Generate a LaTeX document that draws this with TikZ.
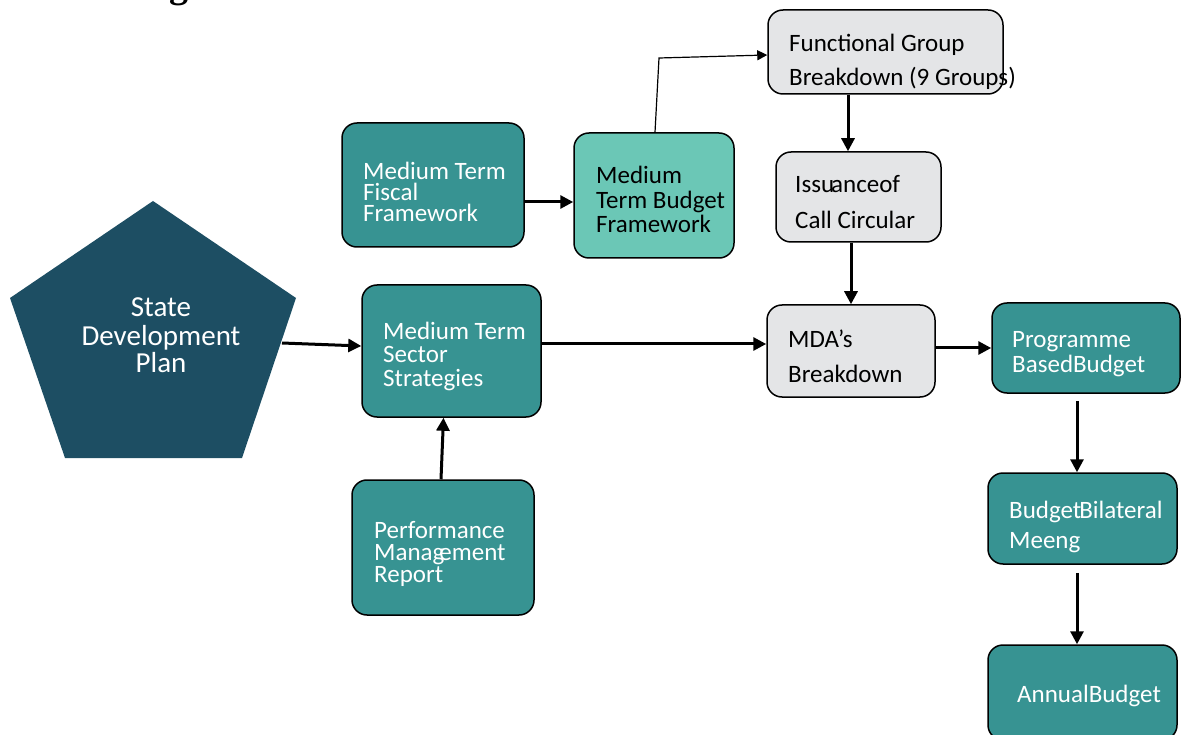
\documentclass[tikz,border=0pt]{standalone}
\usepackage{fontspec}
\setmainfont{Carlito}
\newfontfamily\headfont{Liberation Serif}
\usetikzlibrary{arrows.meta}
\definecolor{tealA}{HTML}{379392}
\definecolor{tealB}{HTML}{6BC7B6}
\definecolor{navy}{HTML}{1D4E63}
\definecolor{greyA}{HTML}{E4E5E7}
\tikzset{
  box/.style={draw=black, line width=1.5pt, rounded corners=15pt, inner sep=0pt},
  tbox/.style={box, fill=tealA},
  lbox/.style={box, fill=tealB},
  gbox/.style={box, fill=greyA},
  lbl/.style={anchor=base west, align=left, inner sep=0pt, font=\fontsize{25}{#1}\selectfont},
  wlbl/.style={lbl=#1, text=white},
  conn/.style={line width=3pt, -{Triangle[length=13pt,width=13pt]}},
  thin conn/.style={line width=1.2pt, -{Triangle[length=10pt,width=10pt]}}
}
\begin{document}
\begin{tikzpicture}[x=1pt,y=-1pt]
\useasboundingbox (0,0) rectangle (1181,735);
% cut-off heading fragment
\node[anchor=base west, inner sep=0pt, font=\headfont\bfseries\fontsize{38}{38}\selectfont] (head) at (169,-2) {g};
% pentagon
\fill[navy] (153,201) -- (296,298) -- (242,458) -- (65,458) -- (10,298) -- cycle;
\node[align=center, text=white, inner sep=0pt, font=\fontsize{29}{28}\selectfont, anchor=base] (sdp) at (161,373) {State\\Development\\Plan};
\coordinate (sdpE) at (282,343);
% boxes
\node[tbox, minimum width=182pt, minimum height=124pt] (mtff) at (433,185) {};
\node[lbox, minimum width=160pt, minimum height=125pt] (mtbf) at (654,195.5) {};
\node[gbox, minimum width=235pt, minimum height=84pt] (fg) at (885.5,52) {};
\node[gbox, minimum width=165pt, minimum height=90pt] (iss) at (858.5,197) {};
\node[gbox, minimum width=168pt, minimum height=92pt] (mda) at (851,351) {};
\node[tbox, minimum width=188pt, minimum height=90pt] (pbb) at (1086,348) {};
\node[tbox, minimum width=189pt, minimum height=91pt] (bbm) at (1082.5,518.5) {};
\node[tbox, minimum width=189pt, minimum height=95pt] (ann) at (1082.5,692.5) {};
\node[tbox, minimum width=179pt, minimum height=132pt] (mtss) at (451.5,351) {};
\node[tbox, minimum width=182pt, minimum height=135pt] (pmr) at (443,547.5) {};
% texts (anchored at the baseline of their last line)
\node[wlbl=21] (mtff-t) at (363,222) {Medium Term\\Fiscal\\Framework};
\node[lbl=24.5] (mtbf-t) at (596,233) {Medium\\Term Budget\\Framework};
\node[lbl=34] (fg-t) at (789,86) {Functional Group\\Breakdown (9 Groups)};
\node[lbl=36] (iss-t) at (795,229) {Issu\kern-3pt anceof\\Call Circular};
\node[lbl=35] (mda-t) at (788,382) {MDA’s\\Breakdown};
\node[wlbl=25] (pbb-t) at (1012,373) {Programme\\BasedBudget};
\node[wlbl=30] (bbm-t) at (1009,548) {Budget\kern-2pt Bilateral\\Meeng};
\node[wlbl=25] (ann-t) at (1017,702) {AnnualBudget};
\node[wlbl=23.5] (mtss-t) at (383,386) {Medium Term\\Sector\\Strategies};
\node[wlbl=22] (pmr-t) at (374,582) {Performance\\Manag\kern-5pt ement\\Report};
% connectors
\draw[conn] (sdpE) -- ([yshift=5pt]mtss.west);
\draw[conn] ([yshift=7pt]mtss.east) -- ([yshift=7pt]mda.west);
\draw[conn] ([yshift=3pt]mda.east) -- (pbb.west);
\draw[conn] ([xshift=-2pt]pmr.north) -- ([xshift=-8pt]mtss.south);
\draw[conn] ([yshift=-17pt]mtff.east) -- ([yshift=-6.5pt]mtbf.west);
\coordinate (bend) at (659,58);
\draw[thin conn] ([xshift=1pt]mtbf.north) -- (bend) -- ([yshift=-3pt]fg.west);
\draw[conn] ([xshift=-37.5pt]fg.south) -- ([xshift=-10.5pt]iss.north);
\draw[conn] ([xshift=-7.5pt]iss.south) -- (mda.north);
\draw[conn, shorten <=7pt] ([xshift=-9pt]pbb.south) -- ([xshift=-5.5pt]bbm.north);
\draw[conn, shorten <=8pt] ([xshift=-5.5pt]bbm.south) -- ([xshift=-5.5pt]ann.north);
\end{tikzpicture}
\end{document}
